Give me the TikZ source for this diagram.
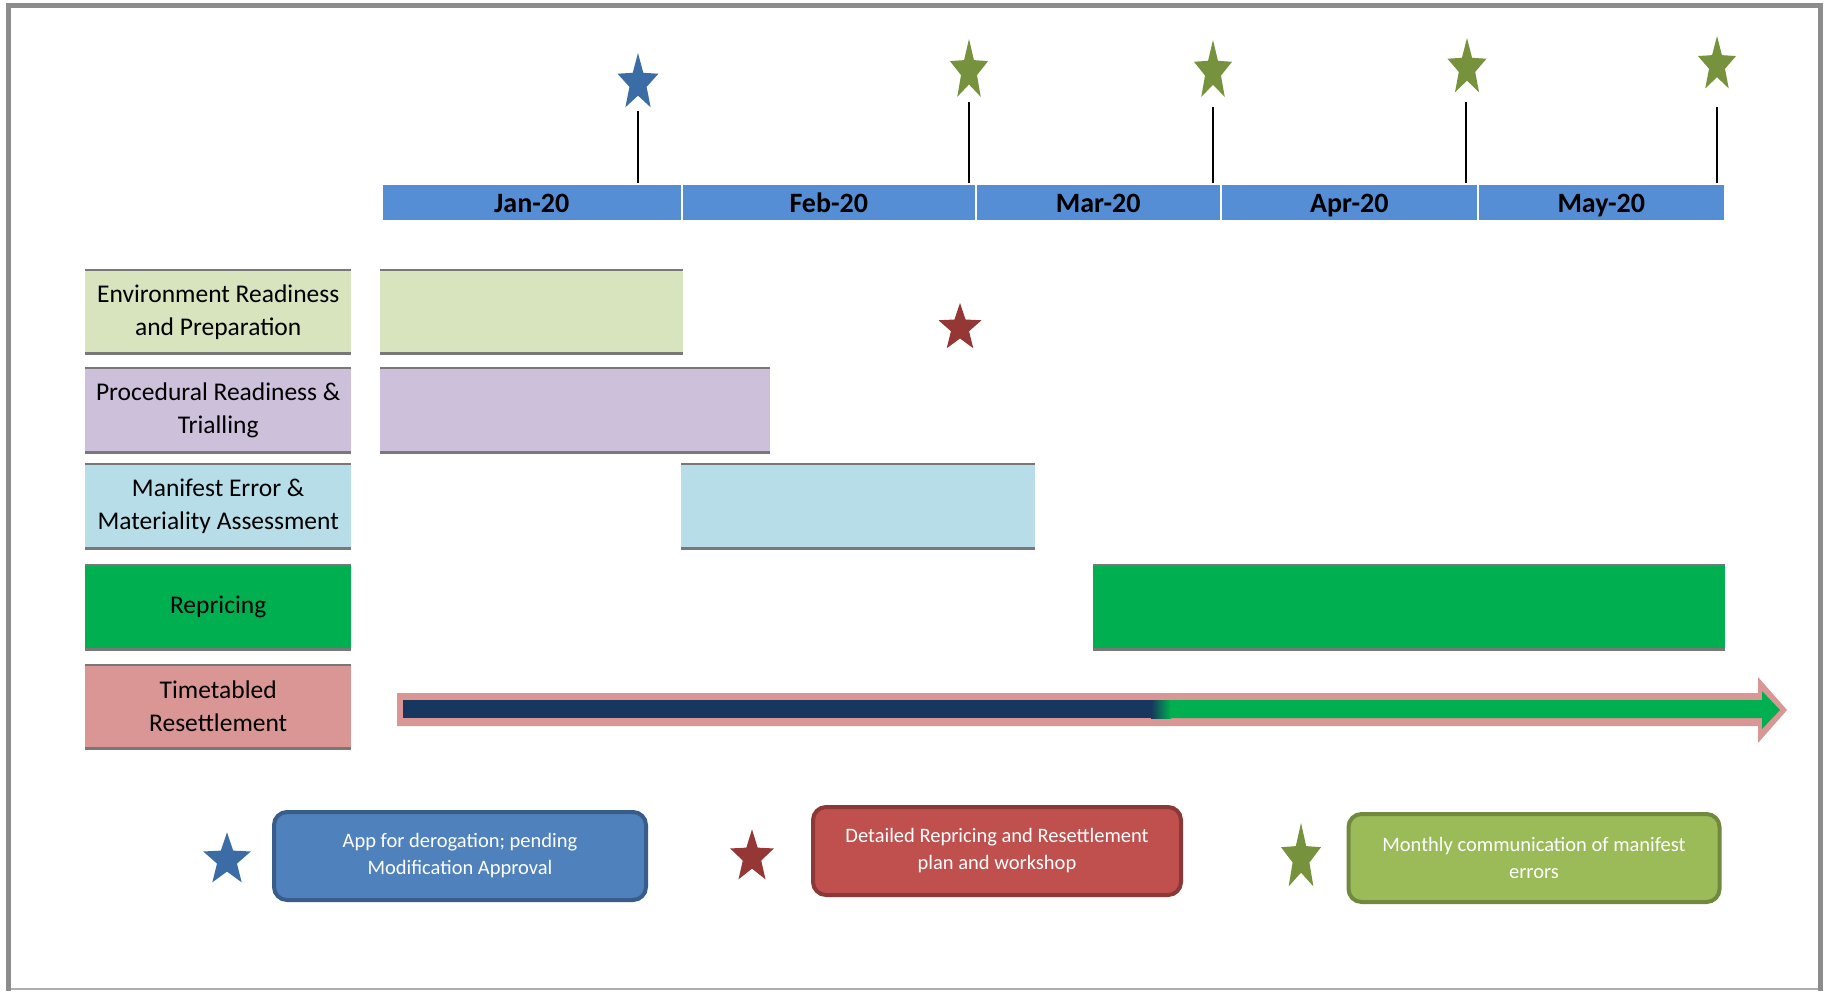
\documentclass[tikz,border=0pt]{standalone}
\usepackage{fontspec}
\setmainfont{Carlito}
\definecolor{monthblue}{HTML}{558ED5}
\definecolor{envg}{HTML}{D7E4BD}
\definecolor{procp}{HTML}{CCC0DA}
\definecolor{manb}{HTML}{B7DEE8}
\definecolor{repg}{HTML}{00B050}
\definecolor{timer}{HTML}{DA9694}
\definecolor{navy}{HTML}{17375E}
\definecolor{lightnavy}{HTML}{8EB4E3}
\definecolor{starblue}{HTML}{3B6CA5}
\definecolor{stargreen}{HTML}{76923C}
\definecolor{starred}{HTML}{953735}
\definecolor{legblue}{HTML}{4F81BD}
\definecolor{legblueb}{HTML}{385D8A}
\definecolor{legred}{HTML}{C0504D}
\definecolor{legredb}{HTML}{8C3836}
\definecolor{leggreen}{HTML}{9BBB59}
\definecolor{leggreenb}{HTML}{71893F}
\definecolor{rowline}{HTML}{787878}
\definecolor{framegray}{HTML}{8C8C8C}
\tikzset{
  pics/mstar/.style n args={4}{code={
    \fill[#1] ({#2*cos(270)},{#3*sin(270)})
      -- ({#2*#4*cos(306)},{#3*#4*sin(306)}) -- ({#2*cos(342)},{#3*sin(342)})
      -- ({#2*#4*cos(18)},{#3*#4*sin(18)})   -- ({#2*cos(54)},{#3*sin(54)})
      -- ({#2*#4*cos(90)},{#3*#4*sin(90)})   -- ({#2*cos(126)},{#3*sin(126)})
      -- ({#2*#4*cos(162)},{#3*#4*sin(162)}) -- ({#2*cos(198)},{#3*sin(198)})
      -- ({#2*#4*cos(234)},{#3*#4*sin(234)}) -- cycle;
  }}
}
\begin{document}
\begin{tikzpicture}[x=1pt,y=-1pt,
  monthbox/.style={rectangle, anchor=north west, fill=monthblue, draw=white, line width=1.5pt,
    minimum height=37pt, inner sep=0pt, text height=23pt, text depth=2pt,
    font=\fontsize{28}{30}\selectfont\bfseries, text=black},
  rowlabel/.style={rectangle, anchor=north west, minimum width=266pt, minimum height=84pt,
    inner sep=0pt, align=center, font=\fontsize{25.5}{33}\selectfont, text=black},
  barbox/.style={rectangle, anchor=north west, minimum height=84pt, inner sep=0pt},
  rowedge/.style={draw=rowline, line width=2.5pt},
  stem/.style={draw=black, line width=1.6pt},
  legbox/.style={rectangle, rounded corners=13pt, line width=4pt, text=white, align=center,
    font=\fontsize{20.5}{27}\selectfont, inner sep=0pt, minimum height=88pt}
]
\useasboundingbox (0,0) rectangle (1829,991);
\fill[white] (0,0) rectangle (1829,991);
\draw[framegray!70, line width=2pt] (8,989) -- (1820,989);
\draw[framegray, line width=5pt] (8,991) -- (8,5) -- (1820,5) -- (1820,991);

% month bar
\node[monthbox, minimum width=300pt] (jan) at (381,183) {Jan-20};
\node[monthbox, minimum width=294pt] (feb) at (681,183) {Feb-20};
\node[monthbox, minimum width=245pt] (mar) at (975,183) {Mar-20};
\node[monthbox, minimum width=257pt] (apr) at (1220,183) {Apr-20};
\node[monthbox, minimum width=247pt] (may) at (1477,183) {May-20};

% top stars
\pic at (638,83) {mstar={starblue}{21.5}{30}{0.42}};
\pic at (969,71) {mstar={stargreen}{20}{32}{0.42}};
\pic at (1213,71.5) {mstar={stargreen}{20}{31.5}{0.42}};
\pic at (1467,68) {mstar={stargreen}{20.5}{30}{0.42}};
\pic at (1717,65) {mstar={stargreen}{20}{29}{0.42}};
\coordinate (t0) at (638,111);
\coordinate (t1) at (969,102);
\coordinate (t2) at (1213,107);
\coordinate (t3) at (1466,102);
\coordinate (t4) at (1717,107);
\draw[stem] (t0) -- (t0 |- jan.north);
\draw[stem] (t1) -- (t1 |- feb.north);
\draw[stem] (t2) -- (t2 |- mar.north);
\draw[stem] (t3) -- (t3 |- apr.north);
\draw[stem] (t4) -- (t4 |- may.north);

% rows
\node[rowlabel, fill=envg, minimum height=83pt] (l1) at (85,270) {Environment Readiness\\and Preparation};
\node[rowlabel, fill=procp] (l2) at (85,368) {Procedural Readiness \&\\Trialling};
\node[rowlabel, fill=manb] (l3) at (85,464) {Manifest Error \&\\Materiality Assessment};
\node[rowlabel, fill=repg] (l4) at (85,565) {Repricing};
\node[rowlabel, fill=timer, minimum height=83pt] (l5) at (85,665) {Timetabled\\Resettlement};

\node[barbox, fill=envg, minimum width=303pt, minimum height=83pt] (b1) at (380,270) {};
\node[barbox, fill=procp, minimum width=390pt] (b2) at (380,368) {};
\node[barbox, fill=manb, minimum width=354pt] (b3) at (681,464) {};
\node[barbox, fill=repg, minimum width=632pt] (b4) at (1093,565) {};

\foreach \n in {l1,l2,l3,l4,l5,b1,b2,b3,b4}{
  \draw[rowedge] (\n.north west) -- (\n.north east);
  \draw[rowedge] (\n.south west) -- (\n.south east);
}

% red star in chart
\pic at (960,328) {mstar={starred}{22.6}{25}{0.42}};

% resettlement arrow
\fill[timer] (397,693) -- (1758,693) -- (1758,677) -- (1787,710) -- (1758,743) -- (1758,726) -- (397,726) -- cycle;
\fill[navy] (403,700) rectangle (1152,718);
\shade[left color=navy, middle color=lightnavy, right color=repg] (1151,700) rectangle (1171,718);
\fill[repg] (1170,700) -- (1762,700) -- (1762,691) -- (1780,710) -- (1762,729) -- (1762,718) -- (1170,718) -- cycle;

% legend
\pic at (227,860) {mstar={starblue}{25}{27.6}{0.42}};
\pic at (752,857) {mstar={starred}{23}{27.6}{0.42}};
\pic at (1301,858) {mstar={stargreen}{21}{35}{0.42}};
\node[legbox, fill=legblue, draw=legblueb, minimum width=372pt] (lg1) at (460,856) {App for derogation; pending\\Modification Approval};
\node[legbox, fill=legred, draw=legredb, minimum width=368pt] (lg2) at (997,851) {Detailed Repricing and Resettlement\\plan and workshop};
\node[legbox, fill=leggreen, draw=leggreenb, minimum width=371pt] (lg3) at (1534,858) {Monthly communication of manifest\\errors};
\end{tikzpicture}
\end{document}
